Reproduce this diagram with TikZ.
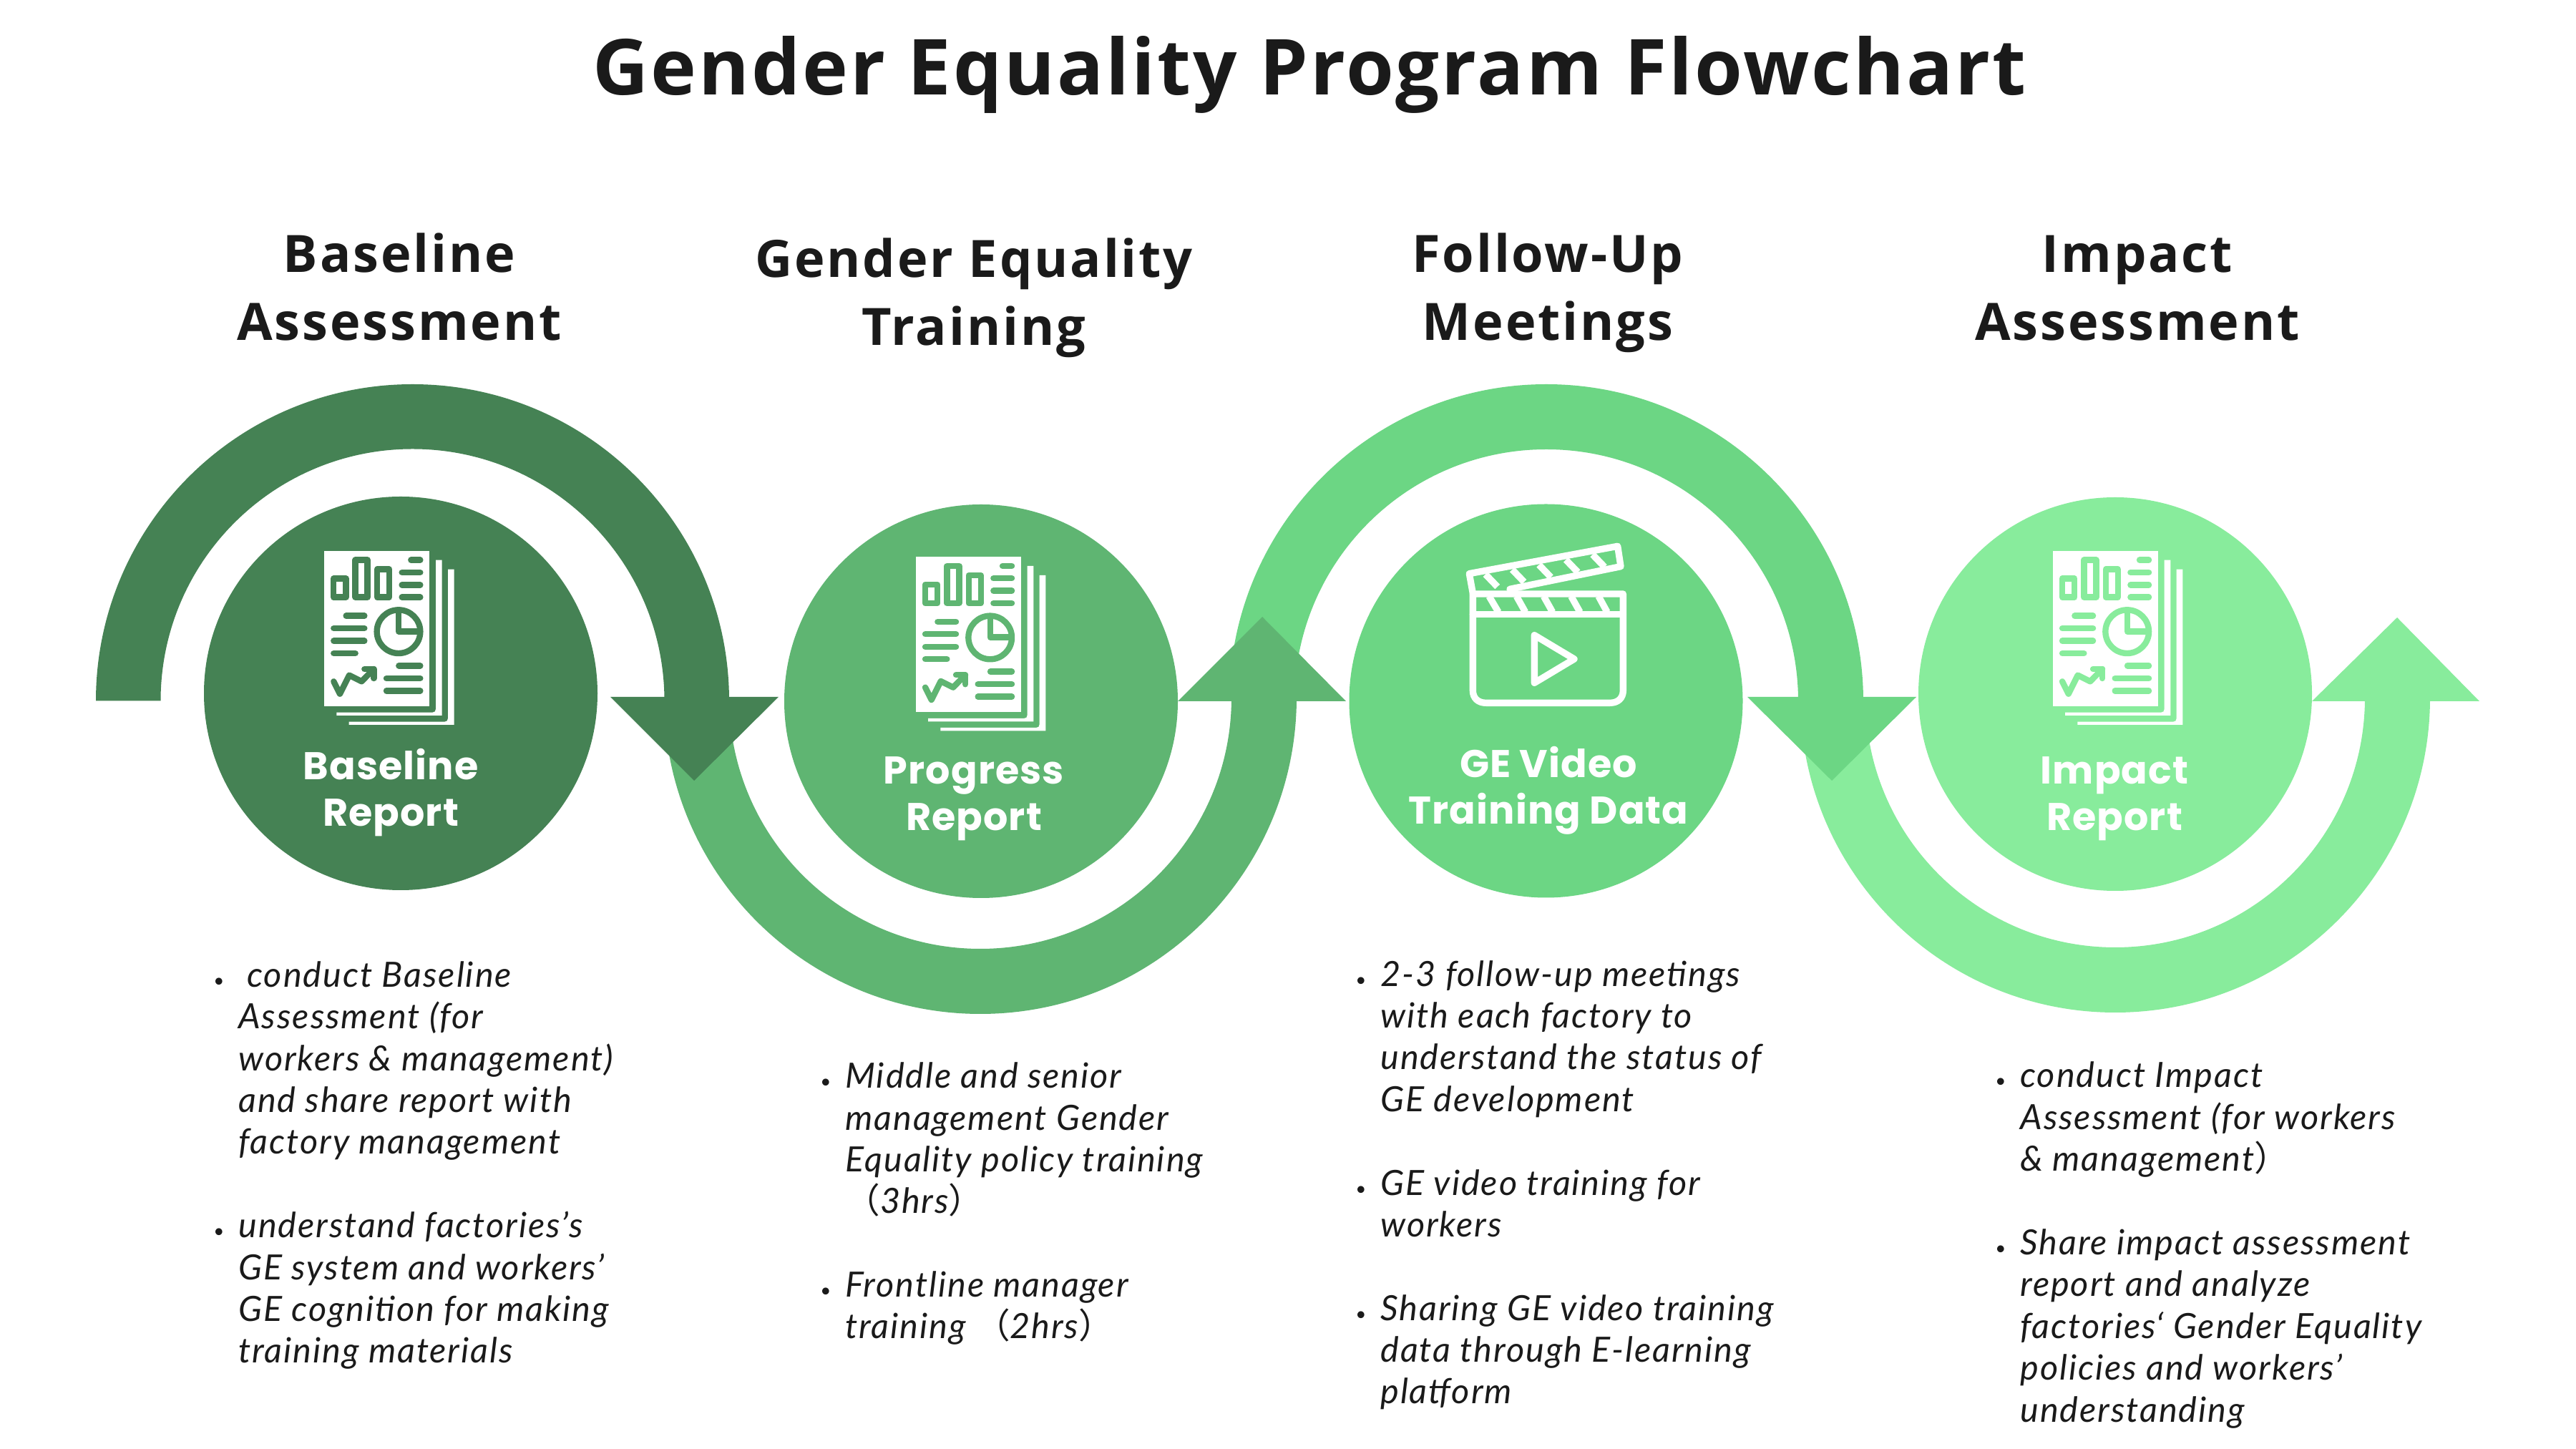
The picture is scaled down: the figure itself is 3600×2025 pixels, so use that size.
\documentclass[tikz,border=0pt]{standalone}
\usepackage{fontspec}
\usetikzlibrary{calc}
\setmainfont{Lato}
\newfontfamily\titlefont[LetterSpace=2.8]{Open Sans}
\newfontfamily\headfont[LetterSpace=4]{Open Sans}
\newfontfamily\lblfont[LetterSpace=2]{Poppins}
\newfontfamily\bodyfont[LetterSpace=4]{Lato}
\newfontfamily\cjkfont{Noto Sans CJK SC}
\definecolor{gA}{HTML}{458254}
\definecolor{gB}{HTML}{5FB572}
\definecolor{gC}{HTML}{6CD684}
\definecolor{gD}{HTML}{88EC9C}
\definecolor{ink}{HTML}{1A1A1A}
\newcommand{\bandarc}[7]{%
  \fill[#1] (#2,#3) ++(#6:#4) arc[start angle=#6,end angle=#7,radius=#4]
    -- ($(#2,#3)+(#7:#5)$) arc[start angle=#7,end angle=#6,radius=#5] -- cycle;}
\newcommand{\bul}{\llap{{\fontsize{13}{13}\selectfont\upshape\textbullet}\hspace{10pt}}}
\newcommand{\fwl}{{\cjkfont （}}
\newcommand{\fwr}{{\cjkfont ）}}
% report icon: coordinates in zoom units (1/3 px), y downward
\newcommand{\reporticon}[3]{%
\begin{scope}[shift={(#1,#2)},x=0.16667pt,y=-0.16667pt,line cap=round,line join=round]
  \fill[white] (100,90) rectangle (541,741);
  \fill[white] (567,128) -- (593,128) -- (593,780) -- (151,780) -- (151,767) -- (553,767)
     .. controls (562,767) and (567,762) .. (567,753) -- cycle;
  \fill[white] (618,167) -- (644,167) -- (644,819) -- (203,819) -- (203,806) -- (604,806)
     .. controls (613,806) and (618,801) .. (618,792) -- cycle;
  \begin{scope}[draw=#3,line width=4.2pt]
    \draw (138.5,206) rectangle (190.5,284);
    \draw (230,128) rectangle (281,284);
    \draw (321,167) rectangle (372,284);
    \draw (463,128) -- (502,128);
    \draw (425,180) -- (502,180);
    \draw (425,232) -- (502,232);
    \draw (425,284) -- (502,284);
    \draw (191,362) -- (268,362);
    \draw (139,414) -- (268,414);
    \draw (139,467) -- (268,467);
    \draw (139,519) -- (230,519);
    \draw (411,428) circle[radius=91];
    \draw (411,345) -- (411,427) -- (495,427);
    \draw (412,571) -- (502,571);
    \draw (360,624) -- (502,624);
    \draw (360,676) -- (502,676);
    \draw (139,637) -- (165,689) -- (204,611) -- (256,637) -- (307,585);
    \draw (268,585) -- (307,585) -- (307,624);
  \end{scope}
\end{scope}}
\begin{document}
\begin{tikzpicture}[x=0.5pt,y=0.5pt,
  disc/.style={circle,inner sep=0pt,minimum size=275pt},
  title/.style={anchor=base,inner sep=0pt,text=ink,font=\titlefont\bfseries\fontsize{54}{60}\selectfont},
  head/.style={anchor=base,inner sep=0pt,text=ink,align=center,font=\headfont\bfseries\fontsize{36}{47.5}\selectfont},
  lbl/.style={anchor=base,inner sep=0pt,text=white,align=center,font=\lblfont\bfseries\fontsize{27}{32.5}\selectfont},
  body/.style={anchor=base west,inner sep=0pt,text=ink,align=left,font=\bodyfont\itshape\fontsize{24.3}{29.2}\selectfont}]
\useasboundingbox (0,0) rectangle (3600,2025);
\fill[white] (0,0) rectangle (3600,2025);
% ribbons
\bandarc{gA}{576.5}{1045.5}{442.5}{352}{180}{0}
\bandarc{gB}{1370}{1050}{442}{351}{180}{360}
\bandarc{gC}{2161}{1045}{443}{352}{180}{0}
\bandarc{gD}{2956}{1050}{440}{349}{180}{360}
% arrow heads
\fill[gA] (853,1051) -- (1088,1051) -- (970,934) -- cycle;
\fill[gB] (1646,1045) -- (1881,1045) -- (1764,1163) -- cycle;
\fill[gC] (2442,1051) -- (2678,1051) -- (2560,934) -- cycle;
\fill[gD] (3231,1045) -- (3465,1045) -- (3350,1162) -- cycle;
% discs
\node[disc,fill=gA] (d1) at (560,1056) {};
\node[disc,fill=gB] (d2) at (1371,1045) {};
\node[disc,fill=gC] (d3) at (2160.5,1045.5) {};
\node[disc,fill=gD] (d4) at (2956,1055) {};
% icons
\reporticon{420}{1285}{gA}
\reporticon{1246.7}{1276.7}{gB}
\reporticon{2835.7}{1285}{gD}
\begin{scope}[shift={(2020,1285)},x=0.16667pt,y=-0.16667pt,line cap=round,line join=round,draw=white,line width=4.67pt]
  \draw (115,270) -- (745,270) -- (745,675) .. controls (745,708) and (722,727) .. (690,727) -- (170,727)
     .. controls (138,727) and (115,708) .. (115,675) -- cycle;
  \draw (115,356) -- (745,356);
  \draw[line cap=butt] (183,280) -- (222,346);
  \draw[line cap=butt] (298,280) -- (335,346);
  \draw[line cap=butt] (412,280) -- (449,346);
  \draw[line cap=butt] (527,280) -- (564,346);
  \draw[line cap=butt] (642,280) -- (678,346);
  \draw (115,268) -- (100,185) -- (722,70) -- (735,155) -- (270,250);
  \draw[line cap=butt] (168,188) -- (218,240);
  \draw[line cap=butt] (280,168) -- (330,220);
  \draw[line cap=butt] (392,148) -- (442,200);
  \draw[line cap=butt] (505,127) -- (555,179);
  \draw[line cap=butt] (617,105) -- (667,157);
  \draw (373,443) -- (373,643) -- (540,543) -- cycle;
\end{scope}
% text
\node[title] (t) at (1830,1892) {Gender Equality Program Flowchart};
\node[head] (h1) at (558,1549) {Baseline\\Assessment};
\node[head] (h2) at (1361,1542) {Gender Equality\\Training};
\node[head] (h3) at (2163,1549) {Follow-Up\\Meetings};
\node[head] (h4) at (2987,1549) {Impact\\Assessment};
\node[lbl] (l1) at (546,870) {Baseline\\Report};
\node[lbl] (l2) at (1361,864) {Progress\\Report};
\node[lbl] (l3) at (2164,873) {GE Video\\Training Data};
\node[lbl] (l4) at (2955,864) {Impact\\Report};
\node[body] (b1) at (333,120) {\bul\hspace{6pt}conduct Baseline\\Assessment (for\\workers \& management)\\and share report with\\factory management\\[29.2pt]\bul understand factories’s\\GE system and workers’\\GE cognition for making\\training materials};
\node[body] (b2) at (1181,154) {\bul Middle and senior\\management Gender\\Equality policy training\\\fwl 3hrs\fwr\\[29.2pt]\bul Frontline manager\\training \fwl 2hrs\fwr};
\node[body] (b3) at (1929,63) {\bul 2-3 follow-up meetings\\with each factory to\\understand the status of\\GE development\\[29.2pt]\bul GE video training for\\workers\\[29.2pt]\bul Sharing GE video training\\data through E-learning\\platform};
\node[body] (b4) at (2823,38) {\bul conduct Impact\\Assessment (for workers\\\& management\fwr\\[29.2pt]\bul Share impact assessment\\report and analyze\\factories‘ Gender Equality\\policies and workers’\\understanding};
\end{tikzpicture}
\end{document}
